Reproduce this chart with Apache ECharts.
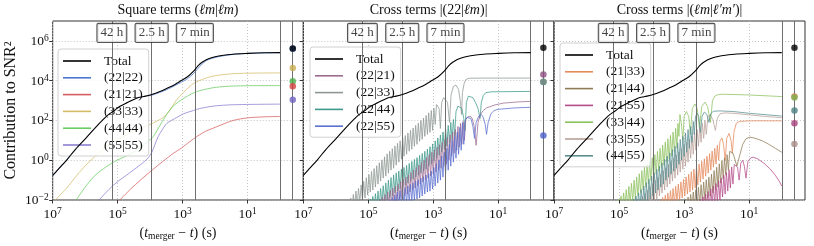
<!DOCTYPE html>
<html><head><meta charset="utf-8">
<script src="https://cdn.jsdelivr.net/npm/echarts@6/dist/echarts.min.js"></script>
<style>html,body{margin:0;padding:0;background:#fff}#c{width:814px;height:246px}</style>
</head><body><div id="c"></div>
<script>
// ---- data: pairs of [log10(t_merger - t / s), log10(contribution to SNR^2)] ----
const total = [[7,-0.76],[6.8,-0.4],[6.57,0.01],[6.3,0.55],[5.95,1.16],[5.65,1.7],[5.34,2.22],[5.1,2.5],[4.93,2.71],[4.7,2.9],[4.42,3.12],[4.2,3.2],[3.95,3.3],[3.7,3.45],[3.49,3.61],[3.25,3.8],[3.03,4.02],[2.85,4.2],[2.67,4.47],[2.55,4.7],[2.47,4.84],[2.35,4.98],[2.2,5.1],[2.0,5.2],[1.85,5.25],[1.45,5.33],[1.0,5.37],[0.5,5.4],[0,5.41]];
const sq22 = [[7,-0.78],[6.57,0.0],[5.95,1.15],[5.34,2.2],[4.93,2.7],[4.42,3.1],[3.95,3.27],[3.49,3.55],[3.03,3.93],[2.85,4.1],[2.67,4.35],[2.47,4.72],[2.3,4.98],[2.1,5.12],[1.85,5.22],[1.45,5.32],[1,5.37],[0,5.41]];
const sq21 = [[4.97,-2.05],[4.6,-1.45],[4.3,-1.0],[3.95,-0.51],[3.6,-0.05],[3.3,0.33],[3.03,0.62],[2.67,1.07],[2.3,1.45],[2.0,1.65],[1.7,1.85],[1.45,2.0],[1.0,2.13],[0.5,2.18],[0,2.2]];
const sq33 = [[6.95,-2.05],[6.57,-1.4],[6.25,-0.75],[5.95,-0.2],[5.54,0.42],[5.13,0.9],[4.52,1.45],[4.0,1.8],[3.6,2.15],[3.4,2.5],[3.2,3.0],[2.98,3.4],[2.67,3.85],[2.3,4.12],[2.0,4.25],[1.44,4.35],[0.8,4.38],[0,4.39]];
const sq44 = [[6.3,-2.05],[6.0,-1.35],[5.75,-0.85],[5.54,-0.55],[5.13,-0.1],[4.52,0.4],[4.1,0.9],[3.9,1.2],[3.7,1.75],[3.49,2.3],[3.29,2.72],[2.98,3.1],[2.67,3.38],[2.47,3.5],[2.0,3.66],[1.44,3.73],[0.5,3.75],[0,3.75]];
const sq55 = [[5.6,-2.05],[5.13,-1.25],[4.52,-0.5],[4.1,0.05],[3.95,0.4],[3.75,1.2],[3.6,1.6],[3.49,1.85],[3.18,2.15],[2.98,2.33],[2.67,2.5],[2.47,2.6],[2.06,2.72],[1.44,2.79],[0,2.82]];

const c22_21 = [[4.7,-2.4],[4.64,-1.95],[4.6,-2.4],[4.56,-1.85],[4.52,-2.4],[4.48,-1.72],[4.44,-2.35],[4.4,-1.6],[4.36,-2.3],[4.32,-1.5],[4.28,-2.25],[4.24,-1.4],[4.2,-2.2],[4.16,-1.3],[4.12,-2.1],[4.08,-1.18],[4.04,-2.0],[4.0,-1.07],[3.96,-1.9],[3.92,-0.96],[3.88,-1.8],[3.84,-0.85],[3.8,-1.7],[3.76,-0.74],[3.72,-1.6],[3.68,-0.62],[3.64,-1.5],[3.6,-0.5],[3.56,-1.4],[3.52,-0.37],[3.48,-1.3],[3.44,-0.25],[3.4,-1.2],[3.36,-0.12],[3.32,-1.1],[3.28,0.0],[3.24,-1.0],[3.2,0.14],[3.16,-0.9],[3.12,0.27],[3.08,-0.8],[3.04,0.4],[3.0,-0.7],[2.96,0.52],[2.92,-0.6],[2.88,0.65],[2.84,-0.5],[2.8,0.78],[2.76,-0.4],[2.72,0.9],[2.68,-0.3],[2.64,1.03],[2.6,-0.2],[2.56,1.15],[2.52,0.0],[2.48,1.28],[2.44,0.2],[2.4,1.42],[2.36,0.35],[2.32,1.55],[2.28,0.5],[2.24,1.7],[2.2,0.65],[2.16,1.85],[2.12,0.8],[2.08,1.95],[2.04,1.0],[2.0,2.05],[1.94,2.18],[1.86,2.22],[1.8,2.1],[1.74,1.7],[1.68,0.75],[1.62,1.9],[1.55,2.3],[1.46,2.5],[1.36,2.63],[1.1,2.78],[0.85,2.87],[0.4,2.93],[0,2.96]];
const c22_33 = [[5.6,-2.3],[5.54,-1.9],[5.5,-2.4],[5.46,-1.72],[5.42,-2.3],[5.38,-1.55],[5.34,-2.2],[5.3,-1.42],[5.26,-2.1],[5.22,-1.24],[5.18,-2.0],[5.14,-1.06],[5.1,-1.9],[5.06,-0.88],[5.02,-1.75],[4.98,-0.72],[4.94,-1.6],[4.9,-0.57],[4.86,-1.5],[4.82,-0.42],[4.78,-1.35],[4.74,-0.28],[4.7,-1.2],[4.66,-0.13],[4.62,-1.05],[4.58,0.02],[4.54,-0.9],[4.5,0.17],[4.46,-0.8],[4.42,0.32],[4.38,-0.65],[4.34,0.45],[4.3,-0.5],[4.26,0.58],[4.22,-0.4],[4.18,0.72],[4.14,-0.25],[4.1,0.85],[4.06,-0.1],[4.02,0.98],[3.98,0.05],[3.94,1.12],[3.9,0.2],[3.86,1.24],[3.82,0.3],[3.78,1.37],[3.74,0.45],[3.7,1.5],[3.66,0.55],[3.62,1.62],[3.58,0.7],[3.54,1.75],[3.5,0.8],[3.46,1.87],[3.42,0.95],[3.38,2.0],[3.34,1.05],[3.3,2.12],[3.26,1.2],[3.22,2.25],[3.18,1.3],[3.14,2.38],[3.1,1.4],[3.06,2.5],[3.02,1.5],[2.98,2.62],[2.94,1.8],[2.9,2.8],[2.86,2.85],[2.82,2.6],[2.78,1.6],[2.74,2.9],[2.68,3.15],[2.62,3.15],[2.56,2.9],[2.5,1.9],[2.45,3.3],[2.38,3.7],[2.3,3.78],[2.22,3.55],[2.16,2.9],[2.13,2.3],[2.1,3.4],[2.05,3.85],[2.0,4.05],[1.9,4.12],[1.5,4.13],[0,4.13]];
const c22_44 = [[5.0,-2.4],[4.94,-1.95],[4.9,-2.4],[4.86,-1.82],[4.82,-2.4],[4.78,-1.68],[4.74,-2.35],[4.7,-1.55],[4.66,-2.3],[4.62,-1.42],[4.58,-2.2],[4.54,-1.28],[4.5,-2.1],[4.46,-1.14],[4.42,-2.0],[4.38,-1.0],[4.34,-1.9],[4.3,-0.87],[4.26,-1.8],[4.22,-0.74],[4.18,-1.65],[4.14,-0.63],[4.1,-1.55],[4.06,-0.54],[4.02,-1.45],[3.98,-0.45],[3.94,-1.35],[3.9,-0.36],[3.86,-1.25],[3.82,-0.26],[3.78,-1.15],[3.74,-0.16],[3.7,-1.05],[3.66,-0.06],[3.62,-0.95],[3.58,0.04],[3.54,-0.85],[3.5,0.13],[3.46,-0.75],[3.42,0.24],[3.38,-0.65],[3.34,0.34],[3.3,-0.55],[3.26,0.45],[3.22,-0.45],[3.18,0.56],[3.14,-0.3],[3.1,0.68],[3.06,-0.2],[3.02,0.82],[2.98,-0.05],[2.94,0.97],[2.9,0.1],[2.86,1.12],[2.82,0.25],[2.78,1.27],[2.74,0.4],[2.7,1.42],[2.66,0.55],[2.62,1.58],[2.58,0.7],[2.54,1.75],[2.5,0.85],[2.46,1.9],[2.42,1.0],[2.38,2.05],[2.34,1.2],[2.3,2.45],[2.24,2.72],[2.18,2.8],[2.12,2.6],[2.06,2.1],[2.02,1.5],[1.98,2.9],[1.92,3.22],[1.86,3.28],[1.78,3.15],[1.7,2.9],[1.62,2.6],[1.56,2.1],[1.52,2.9],[1.46,3.25],[1.38,3.4],[1.2,3.44],[0,3.46]];
const c22_55 = [[4.4,-2.4],[4.34,-2.0],[4.3,-2.4],[4.26,-1.87],[4.22,-2.4],[4.18,-1.74],[4.14,-2.35],[4.1,-1.6],[4.06,-2.3],[4.02,-1.52],[3.98,-2.25],[3.94,-1.45],[3.9,-2.2],[3.86,-1.37],[3.82,-2.15],[3.78,-1.3],[3.74,-2.1],[3.7,-1.22],[3.66,-2.05],[3.62,-1.14],[3.58,-2.0],[3.54,-1.06],[3.5,-1.95],[3.46,-0.98],[3.42,-1.9],[3.38,-0.9],[3.34,-1.8],[3.3,-0.83],[3.26,-1.7],[3.22,-0.75],[3.18,-1.6],[3.14,-0.67],[3.1,-1.55],[3.06,-0.55],[3.02,-1.45],[2.98,-0.36],[2.94,-1.3],[2.9,-0.17],[2.86,-1.15],[2.82,0.02],[2.78,-1.0],[2.74,0.21],[2.7,-0.85],[2.66,0.4],[2.62,-0.7],[2.58,0.6],[2.54,-0.5],[2.5,0.8],[2.46,-0.3],[2.42,1.0],[2.38,-0.1],[2.34,1.2],[2.3,0.1],[2.26,1.42],[2.22,0.3],[2.18,1.65],[2.14,0.5],[2.1,1.88],[2.06,0.8],[2.02,2.0],[1.96,2.15],[1.9,2.2],[1.84,2.1],[1.78,1.7],[1.73,1.1],[1.68,1.9],[1.6,2.22],[1.52,2.3],[1.46,2.15],[1.4,1.8],[1.36,1.3],[1.31,1.9],[1.22,2.35],[1.12,2.5],[1.0,2.56],[0.5,2.63],[0,2.66]];

const c21_33 = [[3.8,-2.4],[3.74,-1.98],[3.7,-2.4],[3.66,-1.87],[3.62,-2.4],[3.58,-1.76],[3.54,-2.35],[3.5,-1.65],[3.46,-2.3],[3.42,-1.53],[3.38,-2.25],[3.34,-1.42],[3.3,-2.2],[3.26,-1.31],[3.22,-2.1],[3.18,-1.2],[3.14,-2.0],[3.1,-1.09],[3.06,-1.9],[3.02,-0.97],[2.98,-1.8],[2.94,-0.84],[2.9,-1.7],[2.86,-0.71],[2.82,-1.6],[2.78,-0.58],[2.74,-1.5],[2.7,-0.45],[2.66,-1.4],[2.62,-0.32],[2.58,-1.25],[2.54,-0.19],[2.5,-1.1],[2.46,-0.06],[2.42,-0.95],[2.38,0.07],[2.34,-0.8],[2.3,0.2],[2.26,-0.65],[2.22,0.33],[2.18,-0.5],[2.14,0.46],[2.1,-0.35],[2.06,0.6],[2.02,-0.2],[1.98,0.75],[1.94,0.0],[1.9,0.95],[1.84,1.12],[1.79,0.8],[1.74,0.0],[1.69,1.1],[1.62,1.35],[1.56,1.0],[1.52,0.35],[1.47,1.4],[1.4,1.85],[1.3,1.95],[1.0,1.98],[0,1.98]];
const c21_44 = [[3.02,-2.4],[2.96,-1.97],[2.92,-2.4],[2.88,-1.85],[2.84,-2.4],[2.8,-1.72],[2.76,-2.35],[2.72,-1.6],[2.68,-2.3],[2.64,-1.48],[2.6,-2.25],[2.56,-1.36],[2.52,-2.2],[2.48,-1.23],[2.44,-2.1],[2.4,-1.1],[2.36,-2.0],[2.32,-0.98],[2.28,-1.9],[2.24,-0.85],[2.2,-1.8],[2.16,-0.7],[2.12,-1.65],[2.08,-0.52],[2.04,-1.5],[2.0,-0.35],[1.96,-1.35],[1.92,-0.18],[1.88,-1.15],[1.84,-0.02],[1.8,-0.95],[1.76,0.12],[1.72,-0.75],[1.68,0.28],[1.64,-0.5],[1.6,0.45],[1.55,0.5],[1.5,0.35],[1.44,0.05],[1.38,-0.3],[1.34,-0.4],[1.3,0.2],[1.2,0.8],[1.1,1.08],[0.98,1.16],[0.85,1.12],[0.6,0.98],[0.4,0.8],[0.2,0.6],[0,0.4]];
const c21_55 = [[2.56,-2.4],[2.5,-1.97],[2.46,-2.4],[2.42,-1.84],[2.38,-2.4],[2.34,-1.7],[2.3,-2.35],[2.26,-1.57],[2.22,-2.3],[2.18,-1.44],[2.14,-2.25],[2.1,-1.3],[2.06,-2.2],[2.02,-1.17],[1.98,-2.1],[1.94,-1.03],[1.9,-2.0],[1.86,-0.9],[1.82,-1.85],[1.78,-0.76],[1.74,-1.7],[1.7,-0.62],[1.66,-1.55],[1.62,-0.48],[1.58,-1.4],[1.54,-0.34],[1.5,-1.2],[1.46,-0.22],[1.41,-0.12],[1.36,-0.35],[1.31,-1.0],[1.26,-0.15],[1.2,0.0],[1.15,-0.3],[1.1,-0.9],[1.04,-0.05],[0.95,0.12],[0.88,0.15],[0.75,0.08],[0.55,-0.15],[0.35,-0.45],[0.2,-0.75],[0.08,-1.05],[0,-1.3]];
const c33_44 = [[5.08,-2.4],[5.02,-1.95],[4.98,-2.4],[4.94,-1.8],[4.9,-2.4],[4.86,-1.64],[4.82,-2.35],[4.78,-1.48],[4.74,-2.3],[4.7,-1.32],[4.66,-2.2],[4.62,-1.16],[4.58,-2.1],[4.54,-1.0],[4.5,-1.95],[4.46,-0.84],[4.42,-1.8],[4.38,-0.68],[4.34,-1.65],[4.3,-0.52],[4.26,-1.5],[4.22,-0.36],[4.18,-1.35],[4.14,-0.2],[4.1,-1.2],[4.06,-0.04],[4.02,-1.0],[3.98,0.12],[3.94,-0.85],[3.9,0.28],[3.86,-0.7],[3.82,0.44],[3.78,-0.55],[3.74,0.6],[3.7,-0.4],[3.66,0.76],[3.62,-0.25],[3.58,0.92],[3.54,-0.1],[3.5,1.08],[3.46,0.05],[3.42,1.25],[3.38,0.2],[3.34,1.42],[3.3,0.4],[3.26,1.6],[3.22,0.6],[3.19,1.85],[3.16,1.2],[3.13,2.3],[3.09,1.9],[3.04,1.0],[3.0,2.2],[2.93,2.45],[2.86,2.2],[2.81,1.3],[2.75,2.6],[2.67,2.83],[2.6,2.6],[2.53,1.6],[2.46,2.7],[2.36,2.92],[2.28,2.7],[2.19,1.9],[2.13,3.0],[2.06,3.22],[1.95,3.3],[1.8,3.32],[1.0,3.28],[0,3.2]];
const c33_55 = [[4.42,-2.4],[4.36,-1.98],[4.32,-2.4],[4.28,-1.82],[4.24,-2.4],[4.2,-1.66],[4.16,-2.35],[4.12,-1.5],[4.08,-2.3],[4.04,-1.34],[4.0,-2.2],[3.96,-1.18],[3.92,-2.1],[3.88,-1.02],[3.84,-1.95],[3.8,-0.86],[3.76,-1.8],[3.72,-0.7],[3.68,-1.65],[3.64,-0.54],[3.6,-1.5],[3.56,-0.38],[3.52,-1.35],[3.48,-0.22],[3.44,-1.2],[3.4,-0.06],[3.36,-1.05],[3.32,0.1],[3.28,-0.9],[3.24,0.26],[3.2,-0.75],[3.16,0.42],[3.12,-0.6],[3.08,0.58],[3.04,-0.45],[3.0,0.74],[2.96,-0.3],[2.92,0.9],[2.88,-0.1],[2.84,1.06],[2.8,0.1],[2.76,1.22],[2.72,0.3],[2.68,1.38],[2.64,0.5],[2.6,1.54],[2.56,0.7],[2.52,1.7],[2.48,0.9],[2.44,1.86],[2.4,1.1],[2.36,2.0],[2.32,1.3],[2.27,2.2],[2.2,2.28],[2.12,2.05],[2.04,1.5],[1.98,2.1],[1.9,2.33],[1.75,2.38],[1.4,2.35],[1.0,2.28],[0.5,2.2],[0,2.14]];
const c44_55 = [[4.62,-2.4],[4.56,-1.95],[4.52,-2.4],[4.48,-1.8],[4.44,-2.4],[4.4,-1.64],[4.36,-2.35],[4.32,-1.47],[4.28,-2.3],[4.24,-1.3],[4.2,-2.2],[4.16,-1.13],[4.12,-2.1],[4.08,-0.96],[4.04,-1.95],[4.0,-0.8],[3.96,-1.8],[3.92,-0.63],[3.88,-1.65],[3.84,-0.46],[3.8,-1.5],[3.76,-0.3],[3.72,-1.35],[3.68,-0.13],[3.64,-1.2],[3.6,0.04],[3.56,-1.0],[3.52,0.2],[3.48,-0.85],[3.44,0.37],[3.4,-0.7],[3.36,0.54],[3.32,-0.55],[3.28,0.7],[3.24,-0.4],[3.2,0.87],[3.16,-0.2],[3.12,1.04],[3.08,0.0],[3.04,1.2],[3.0,0.2],[2.96,1.37],[2.92,0.4],[2.88,1.54],[2.84,0.6],[2.8,1.7],[2.76,0.9],[2.72,1.95],[2.69,1.3],[2.65,2.2],[2.6,2.36],[2.55,2.2],[2.5,1.4],[2.45,2.2],[2.38,2.42],[2.3,2.3],[2.24,1.9],[2.18,2.35],[2.1,2.46],[1.9,2.48],[1.5,2.45],[1.0,2.36],[0,2.22]];

// final values (dots column), log10
const dots1 = [['(22|22)',5.6],['Total',5.62],['(33|33)',4.64],['(44|44)',3.97],['(21|21)',3.72],['(55|55)',3.04]];
const dots2 = [['(22|44)',3.93],['Total',5.66],['(22|21)',4.31],['(22|33)',3.94],['(22|55)',1.24]];
const dots3 = [['Total',5.66],['(21|33)',3.2],['(33|44)',3.15],['(44|55)',2.5],['(21|55)',1.86],['(33|55)',0.81]];

const eventTimes = [151200, 9000, 420];        // seconds
const eventLabels = ['42 h', '2.5 h', '7 min'];
const mergerT = 1;                               // s, end of the curves
const dotsLogT = -0.39;                          // column of final values
const xTicks = [1e7, 1e5, 1e3, 1e1];
const yTicks = [1e-2, 1, 1e2, 1e4, 1e6];

const colors = {
  'Total':'#000000','(22|22)':'#4a78d0','(21|21)':'#d65f5f','(33|33)':'#d5bb67','(44|44)':'#6acc64','(55|55)':'#8a80d0',
  '(22|21)':'#9c6a90','(22|33)':'#8e9893','(22|44)':'#3f9a8b','(22|55)':'#5a6fd0',
  '(21|33)':'#e58a5c','(21|44)':'#8f7b55','(21|55)':'#b44b8a','(33|44)':'#8cc15e','(33|55)':'#b9a09a','(44|55)':'#5a8e91'
};
const dotColors = {
  'Total':'#000','(22|22)':'#3d6cc8','(21|21)':'#d43f3f','(33|33)':'#c9ae52','(44|44)':'#4cae4c','(55|55)':'#6d63c0',
  '(22|21)':'#8e4f80','(22|33)':'#7f8a86','(22|44)':'#2f8a7b','(22|55)':'#4a5ec8',
  '(21|33)':'#e07a45','(33|44)':'#7fb050','(44|55)':'#4a7f82','(21|55)':'#a8407f','(33|55)':'#a98f88'
};

const FONT = 'Liberation Serif';
const grids = [
  {left:52.7, top:21, width:250.6, height:183.3},
  {left:303.3, top:21, width:250.6, height:183.3},
  {left:554, top:21, width:251, height:183.3}
];

function expLabel(v){ const e = Math.round(Math.log10(v)); return '{b|10}{e|' + (e < 0 ? '\u2212' + (-e) : e) + '}'; }
const tickRich = { b:{fontFamily:FONT,fontSize:13.5,color:'#111',lineHeight:15,verticalAlign:'bottom'}, e:{fontFamily:FONT,fontSize:9.5,color:'#111',lineHeight:9,verticalAlign:'top'} };
const gridLine = {show:true, lineStyle:{color:'#b8b8b8', type:[1,2], width:0.8}};

const xAxes = grids.map((g,i)=>({
  type:'log', gridIndex:i, min:Math.pow(10,-0.714), max:1e7, inverse:true,
  axisLine:{show:false},
  axisTick:{show:true, customValues:xTicks, length:3.5, inside:false, lineStyle:{color:'#333'}},
  axisLabel:{customValues:xTicks, formatter:expLabel, rich:tickRich, margin:6},
  splitLine:gridLine,
  name:'{n|(}{i|t}{s|merger}{n| \u2212 }{i|t}{n|) (s)}', nameLocation:'middle', nameGap:25,
  nameTextStyle:{rich:{n:{fontFamily:FONT,fontSize:14,color:'#111',lineHeight:16},i:{fontFamily:FONT,fontStyle:'italic',fontSize:14,color:'#111',lineHeight:16},s:{fontFamily:FONT,fontSize:9.5,color:'#111',lineHeight:9,verticalAlign:'bottom'}}}
}));
const yAxes = grids.map((g,i)=>({
  type:'log', gridIndex:i, min:1e-2, max:1e7,
  axisLine:{show:false},
  axisTick:{show:true, customValues:yTicks, length:3.5, inside:false, lineStyle:{color:'#333'}},
  axisLabel:{show:i===0, customValues:yTicks, formatter:expLabel, rich:tickRich, margin:4},
  splitLine:gridLine,
  name: i===0 ? 'Contribution to SNR\u00b2' : '', nameLocation:'middle', nameGap:34, nameRotate:90,
  nameTextStyle:{fontFamily:FONT,fontSize:16,color:'#111'}
}));

function line(gi, name, pts, opt){
  const c = colors[name];
  return Object.assign({type:'line', name, xAxisIndex:gi, yAxisIndex:gi,
    data: pts.map(p=>[Math.pow(10,p[0]), Math.pow(10,p[1])]),
    symbol:'none', showSymbol:false, clip:true, silent:true, animation:false,
    lineStyle:{color:c, width:0.9, opacity:0.85}, itemStyle:{color:c}, z:2}, opt||{});
}
function totalLine(gi){
  return line(gi,'Total',total,{z:5, smooth:0.3, lineStyle:{color:'#000',width:1.1,opacity:1},
    markLine:{silent:true, symbol:['none','none'], animation:false, label:{show:false},
      lineStyle:{color:'#6f6f6f', width:1, type:'solid'},
      data: eventTimes.concat([mergerT, Math.pow(10,dotsLogT)]).map(t=>({xAxis:t}))}});
}
function dotSeries(gi, arr){
  return {type:'scatter', xAxisIndex:gi, yAxisIndex:gi, symbolSize:6.5, silent:true, animation:false, z:6,
    data: arr.map(d=>({value:[Math.pow(10,dotsLogT), Math.pow(10,d[1])], itemStyle:{color:dotColors[d[0]]}}))};
}
function boxSeries(gi){
  return {type:'scatter', xAxisIndex:gi, yAxisIndex:gi, symbol:'rect', symbolSize:1, itemStyle:{color:'transparent'}, silent:true, animation:false, z:8,
    data: eventTimes.map((t,k)=>({value:[t, Math.pow(10,6.4)], name:eventLabels[k]})),
    label:{show:true, position:'inside', formatter:'{b}', fontFamily:FONT, fontSize:13, color:'#111',
      backgroundColor:'#fff', borderColor:'#2a2a2a', borderWidth:1.1, borderRadius:1, padding:[3,3,2,3]}};
}

const series = [
  line(0,'(22|22)',sq22,{smooth:0.3}), line(0,'(21|21)',sq21,{smooth:0.3}), line(0,'(33|33)',sq33,{smooth:0.3}),
  line(0,'(44|44)',sq44,{smooth:0.3}), line(0,'(55|55)',sq55,{smooth:0.3}),
  totalLine(0), dotSeries(0,dots1), boxSeries(0),
  line(1,'(22|33)',c22_33), line(1,'(22|44)',c22_44), line(1,'(22|21)',c22_21), line(1,'(22|55)',c22_55),
  totalLine(1), dotSeries(1,dots2), boxSeries(1),
  line(2,'(33|44)',c33_44), line(2,'(33|55)',c33_55), line(2,'(44|55)',c44_55),
  line(2,'(21|33)',c21_33), line(2,'(21|44)',c21_44), line(2,'(21|55)',c21_55),
  totalLine(2), dotSeries(2,dots3), boxSeries(2)
];

function legend(left, top, names){
  return {orient:'vertical', left, top, data:names, icon:'rect', itemWidth:28, itemHeight:1.6, itemGap:2.8,
    padding:[5,6,4,5], borderColor:'#d0d0d0', borderWidth:1, borderRadius:3, backgroundColor:'rgba(255,255,255,0.8)',
    selectedMode:false, textStyle:{fontFamily:FONT, fontSize:13.5, color:'#111', lineHeight:10, padding:[0,0,0,8]}};
}

const titleRich = {n:{fontFamily:FONT,fontSize:14,fontWeight:'normal',color:'#111'}, i:{fontFamily:FONT,fontSize:14,fontWeight:'normal',fontStyle:'italic',color:'#111'}};
const titles = [
  {text:'{n|Square terms (}{i|\u2113m}{n||}{i|\u2113m}{n|)}', cx:178},
  {text:'{n|Cross terms |(22|}{i|\u2113m}{n|)|}', cx:428.6},
  {text:'{n|Cross terms |(}{i|\u2113m}{n||}{i|\u2113\u2032m\u2032}{n|)|}', cx:679.5}
].map(t=>({text:t.text, left:t.cx, top:3, textAlign:'center', padding:0, textStyle:{fontWeight:'normal', rich:titleRich}}));

const chart = echarts.init(document.getElementById('c'), null, {renderer:'canvas'});
chart.setOption({
  backgroundColor:'#fff', animation:false,
  title: titles,
  grid: grids.map(g=>Object.assign({show:true, borderColor:'#333', borderWidth:1, backgroundColor:'transparent', containLabel:false}, g)),
  xAxis: xAxes, yAxis: yAxes,
  legend: [
    legend(58,49,['Total','(22|22)','(21|21)','(33|33)','(44|44)','(55|55)']),
    legend(310,47,['Total','(22|21)','(22|33)','(22|44)','(22|55)']),
    legend(560,43,['Total','(21|33)','(21|44)','(21|55)','(33|44)','(33|55)','(44|55)'])
  ],
  series
});
</script></body></html>
